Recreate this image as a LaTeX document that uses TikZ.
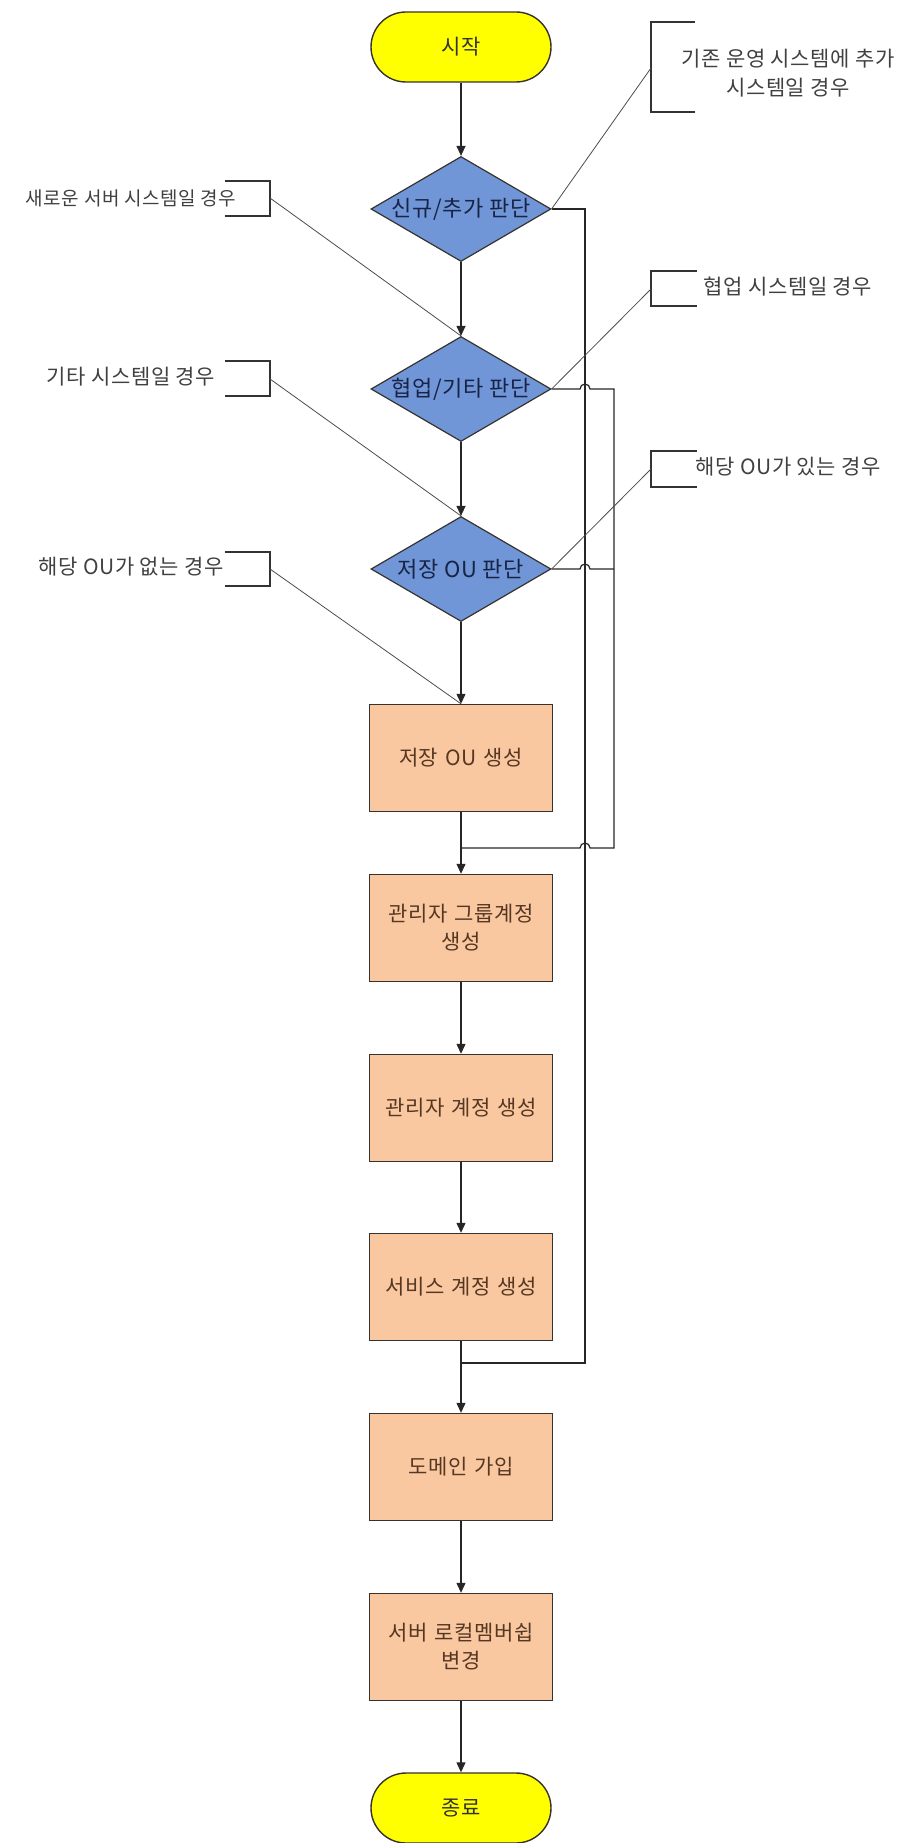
\documentclass[tikz,border=0pt]{standalone}
\usepackage{fontspec}
\setmainfont{Noto Sans CJK KR}[LetterSpace=3]
\usetikzlibrary{arrows.meta,shapes.geometric}
\tikzset{>={Triangle[length=10pt,width=9pt]}}
\definecolor{termfill}{RGB}{255,255,0}
\definecolor{decfill}{RGB}{112,150,215}
\definecolor{procfill}{RGB}{250,200,160}
\definecolor{edgecol}{RGB}{55,50,45}
\tikzset{
  term/.style={draw=edgecol,line width=1.4pt,fill=termfill,rounded corners=35pt,
    minimum width=180pt,minimum height=70pt,font=\fontsize{21}{25}\selectfont,text=black!80},
  decision/.style={diamond,draw=edgecol,line width=1.2pt,fill=decfill,
    minimum width=180pt,minimum height=105pt,inner sep=0pt},
  dectext/.style={font=\fontsize{22}{26}\selectfont,text={rgb,255:red,25;green,35;blue,70}},
  proc/.style={draw=edgecol,line width=1.4pt,fill=procfill,minimum width=182pt,
    minimum height=107pt,text width=176pt,align=center,
    font=\fontsize{21}{28}\selectfont,text={rgb,255:red,85;green,55;blue,35}},
  note/.style={align=center,font=\fontsize{21}{29}\selectfont,text=black!75},
  flow/.style={->,line width=1.2pt,draw=black!85},
  callout/.style={line width=0.8pt,draw=black!70},
  bracket/.style={line width=1.6pt,draw=black!80}
}
\begin{document}
\begin{tikzpicture}[x=1pt,y=-1pt]
\useasboundingbox (0,0) rectangle (903,1843);
% main column
\node[term] (start) at (461,47) {시작};
\node[decision] (d1) at (461,209) {};
\node[dectext] (t1) at (d1) {신규/추가 판단};
\node[decision] (d2) at (461,389) {};
\node[dectext] (t2) at (d2) {협업/기타 판단};
\node[decision] (d3) at (461,569) {};
\node[dectext] (t3) at (d3) {저장 OU 판단};
\node[proc] (p1) at (461,758) {저장 OU 생성};
\node[proc] (p2) at (461,928) {관리자 그룹계정\\생성};
\node[proc] (p3) at (461,1108) {관리자 계정 생성};
\node[proc] (p4) at (461,1287) {서비스 계정 생성};
\node[proc] (p5) at (461,1467) {도메인 가입};
\node[proc] (p6) at (461,1647) {서버 로컬멤버쉽\\변경};
\node[term] (stop) at (461,1808) {종료};
\draw[flow] (start) -- (d1);
\draw[flow] (d1) -- (d2);
\draw[flow] (d2) -- (d3);
\draw[flow] (d3) -- (p1);
\draw[flow] (p1) -- (p2);
\draw[flow] (p2) -- (p3);
\draw[flow] (p3) -- (p4);
\draw[flow] (p4) -- (p5);
\draw[flow] (p5) -- (p6);
\draw[flow] (p6) -- (stop);
% side lines
\coordinate (j1) at (461,848);
\coordinate (j2) at (461,1363);
\draw[line width=1.2pt,draw=black!85] (d1.east) -- (585,209) -- (585,1363) -- (j2);
\draw[line width=1.2pt,draw=black!85] (d2.east) -- (580,389)
  arc[start angle=180,end angle=0,radius=5pt] -- (614,389) -- (614,848) -- (590,848)
  arc[start angle=0,end angle=180,radius=5pt] -- (j1);
\draw[line width=1.2pt,draw=black!85] (d3.east) -- (580,569)
  arc[start angle=180,end angle=0,radius=5pt] -- (614,569);
% notes on the left
\node[note,font=\fontsize{19}{25}\selectfont] (n1) at (131,198) {새로운 서버 시스템일 경우};
\draw[bracket] (225,181) -- (270,181) -- (270,216) -- (225,216);
\coordinate (b1) at (270,198);
\draw[callout] (b1) -- (d2.north);
\node[note] (n2) at (131,377) {기타 시스템일 경우};
\draw[bracket] (225,361) -- (270,361) -- (270,396) -- (225,396);
\coordinate (b2) at (270,379);
\draw[callout] (b2) -- (d3.north);
\node[note] (n3) at (131,567) {해당 OU가 없는 경우};
\draw[bracket] (225,552) -- (270,552) -- (270,586) -- (225,586);
\coordinate (b3) at (270,569);
\draw[callout] (b3) -- (p1.north);
% notes on the right
\node[note] (n4) at (788,73) {기존 운영 시스템에 추가\\시스템일 경우};
\draw[bracket] (695,22) -- (651,22) -- (651,112) -- (695,112);
\coordinate (b4) at (651,68);
\draw[callout] (d1.east) -- (b4);
\node[note] (n5) at (788,287) {협업 시스템일 경우};
\draw[bracket] (697,271) -- (651,271) -- (651,306) -- (697,306);
\coordinate (b5) at (651,289);
\draw[callout] (d2.east) -- (b5);
\node[note] (n6) at (788,467) {해당 OU가 있는 경우};
\draw[bracket] (697,451) -- (651,451) -- (651,487) -- (697,487);
\coordinate (b6) at (651,469);
\draw[callout] (d3.east) -- (b6);
\end{tikzpicture}
\end{document}
